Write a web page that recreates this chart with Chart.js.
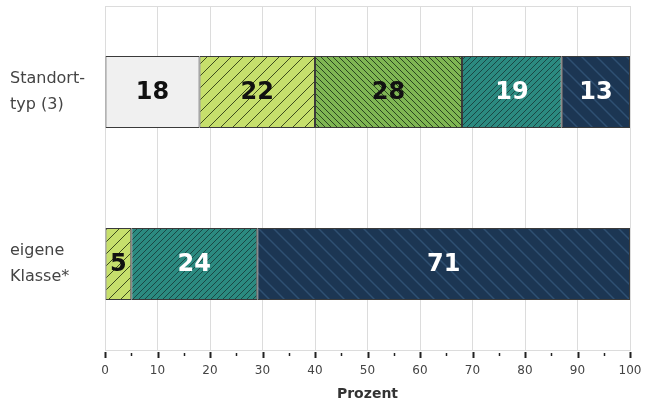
<!DOCTYPE html>
<html>
<head>
<meta charset="utf-8">
<script src="https://cdn.jsdelivr.net/npm/chart.js@4"></script>
<style>
  html, body { margin: 0; padding: 0; background: #fff; }
  #wrap { width: 647px; height: 405px; }
</style>
</head>
<body>
<div id="wrap"><canvas id="chart"></canvas></div>
<script>
var categories = [['Standort-', 'typ (3)'], ['eigene', 'Klasse*']];
var seriesNames = ['Stufe 1', 'Stufe 2', 'Stufe 3', 'Stufe 4', 'Stufe 5'];
var seriesValues = [
    [18, 0],
    [22, 5],
    [28, 0],
    [19, 24],
    [13, 71]
];
var xTicks = [0, 10, 20, 30, 40, 50, 60, 70, 80, 90, 100];

// hatch pattern: background, line colour, tile size, direction
function hatch(bg, line, size, dir, lw) {
    var c = document.createElement('canvas');
    c.width = size; c.height = size;
    var g = c.getContext('2d');
    g.fillStyle = bg;
    g.fillRect(0, 0, size, size);
    g.strokeStyle = line;
    g.lineWidth = lw;
    g.beginPath();
    if (dir === '/') {
        g.moveTo(-1, size + 1); g.lineTo(size + 1, -1);
        g.moveTo(-1, 1); g.lineTo(1, -1);
        g.moveTo(size - 1, size + 1); g.lineTo(size + 1, size - 1);
    } else {
        g.moveTo(-1, -1); g.lineTo(size + 1, size + 1);
        g.moveTo(size - 1, -1); g.lineTo(size + 1, 1);
        g.moveTo(-1, size - 1); g.lineTo(1, size + 1);
    }
    g.stroke();
    return g.createPattern(c, 'repeat');
}

var fills = [
    '#f0f0f0',
    hatch('#c6df6c', '#3e4d1c', 12, '/', 1),
    hatch('#7fb653', '#2a4520', 6, '\\', 1),
    hatch('#2b8a80', '#1a4744', 6, '/', 1),
    hatch('#1c3653', '#2f5072', 15, '\\', 1.5)
];
var labelColors = ['#111', '#111', '#111', '#fff', '#fff'];

var datasets = seriesValues.map(function (vals, i) {
    return {
        label: seriesNames[i],
        data: vals,
        backgroundColor: fills[i],
        borderColor: '#3a3a3a',
        borderWidth: 1,
        borderSkipped: false,
        barPercentage: 0.84,
        categoryPercentage: 0.5
    };
});

// close the plot box (light grey frame)
var box = {
    id: 'box',
    beforeDatasetsDraw: function (chart) {
        var a = chart.chartArea, ctx = chart.ctx;
        ctx.save();
        ctx.strokeStyle = '#dcdcdc';
        ctx.lineWidth = 1;
        ctx.strokeRect(Math.round(a.left) + 0.5, Math.round(a.top) + 0.5,
            Math.round(a.right - a.left), Math.round(a.bottom - a.top));
        ctx.restore();
    }
};

var valueLabels = {
    id: 'valueLabels',
    afterDatasetsDraw: function (chart) {
        var ctx = chart.ctx;
        ctx.save();
        ctx.font = 'bold 24px "DejaVu Sans"';
        ctx.textAlign = 'center';
        ctx.textBaseline = 'middle';
        chart.data.datasets.forEach(function (ds, i) {
            chart.getDatasetMeta(i).data.forEach(function (bar, j) {
                if (!ds.data[j]) return;
                var p = bar.getProps(['x', 'y', 'base'], true);
                ctx.fillStyle = labelColors[i];
                ctx.fillText(ds.data[j], (p.x + p.base) / 2, p.y + 1);
            });
        });
        ctx.restore();
    }
};

// major and minor tick marks below the plot
var tickMarks = {
    id: 'tickMarks',
    afterDraw: function (chart) {
        var ctx = chart.ctx, x = chart.scales.x, bottom = chart.chartArea.bottom;
        ctx.save();
        ctx.strokeStyle = '#222';
        for (var v = 0; v <= 100; v += 5) {
            var px = Math.round(x.getPixelForValue(v)) + 0.5;
            var major = v % 10 === 0;
            ctx.lineWidth = major ? 2 : 1.5;
            ctx.beginPath();
            ctx.moveTo(px, bottom + (major ? 2 : 3));
            ctx.lineTo(px, bottom + (major ? 8 : 6));
            ctx.stroke();
        }
        ctx.restore();
    }
};

new Chart(document.getElementById('chart'), {
    type: 'bar',
    data: { labels: categories, datasets: datasets },
    plugins: [box, valueLabels, tickMarks],
    options: {
        indexAxis: 'y',
        responsive: true,
        maintainAspectRatio: false,
        animation: false,
        layout: { padding: { top: 6, right: 17, left: 10, bottom: 0 } },
        plugins: { legend: { display: false }, tooltip: { enabled: false } },
        scales: {
            x: {
                stacked: true,
                min: 0,
                max: 100,
                afterBuildTicks: function (s) {
                    s.ticks = xTicks.map(function (v) { return { value: v }; });
                },
                afterFit: function (s) { s.paddingLeft = 0; s.paddingRight = 0; s.height = 55; },
                grid: { color: '#dcdcdc', drawTicks: false },
                border: { color: '#dcdcdc' },
                ticks: { padding: 14, color: '#444', font: { family: 'DejaVu Sans', size: 12 } },
                title: {
                    display: true,
                    text: 'Prozent',
                    color: '#333',
                    padding: { top: 4, bottom: 2 },
                    font: { family: 'DejaVu Sans', size: 14, weight: 'bold' }
                }
            },
            y: {
                stacked: true,
                afterFit: function (s) { s.width = 95; s.paddingTop = 0; s.paddingBottom = 0; },
                grid: { display: false, drawTicks: false },
                border: { color: '#dcdcdc' },
                ticks: {
                    crossAlign: 'far',
                    padding: 8,
                    color: '#444',
                    font: { family: 'DejaVu Sans', size: 16, lineHeight: 1.65 }
                }
            }
        }
    }
});
</script>
</body>
</html>
